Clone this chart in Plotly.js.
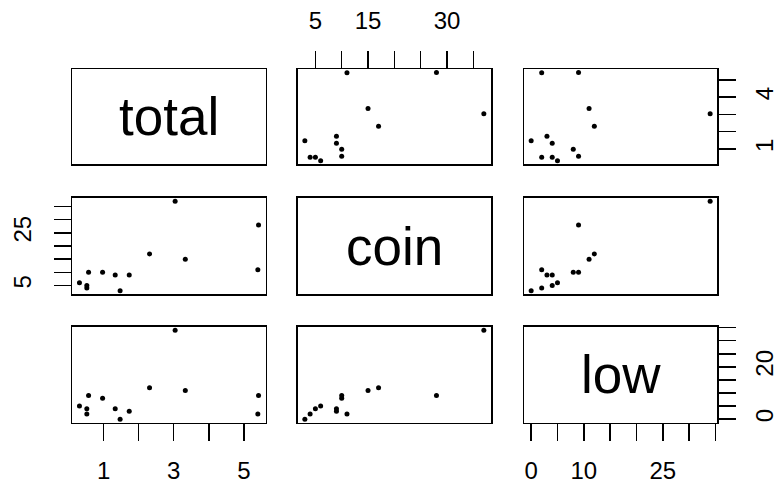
<!DOCTYPE html>
<html>
<head>
<meta charset="utf-8">
<script src="https://cdn.plot.ly/plotly-3.0.1.min.js"></script>
<style>html,body{margin:0;padding:0;background:#fff;}#chart{width:777px;height:484px;}</style>
</head>
<body>
<div id="chart"></div>
<script>
// Variable names
const varNames = ["total", "coin", "low"];
// Series values (one entry per observation)
const total = [0.31, 0.52, 0.52, 0.57, 0.97, 1.33, 1.73, 1.47, 2.31, 3.04, 3.33, 5.42, 5.40];
const coin  = [6, 5, 4, 10, 10, 9, 9, 3, 17, 37, 15, 28, 11];
const low   = [5, 4, 2, 9, 8, 4, 3, 0, 12, 34, 11, 9, 2];
// Tick positions and labels
const totalTicks = [1, 2, 3, 4, 5];
const totalBottomText = ["1", "", "3", "", "5"];
const totalRightText = ["1", "", "", "4", ""];
const coinTicks = [5, 10, 15, 20, 25, 30, 35];
const coinTopText = ["5", "", "15", "", "", "30", ""];
const coinLeftText = ["5", "", "", "", "25", "", ""];
const lowTicks = [0, 5, 10, 15, 20, 25, 30, 35];
const lowBottomText = ["0", "", "10", "", "", "25", "", ""];
const lowRightText = ["0", "", "", "", "20", "", "", ""];

const vars = [total, coin, low];
const ticks = [totalTicks, coinTicks, lowTicks];
const xText = [totalBottomText, coinTopText, lowBottomText];
const yText = [totalRightText, coinLeftText, lowRightText];

function padRange(a) {
  const mn = Math.min(...a), mx = Math.max(...a), d = mx - mn;
  return [mn - 0.04 * d, mx + 0.04 * d];
}
const ranges = vars.map(padRange);

const W = 777, H = 484;
const colPx = [[72.3, 265.7], [297.7, 491], [524, 717.3]];
const rowPx = [[69, 164.3], [197.7, 294.3], [326.7, 422.7]];
const xDom = colPx.map(p => [p[0] / W, p[1] / W]);
const yDom = rowPx.map(p => [1 - p[1] / H, 1 - p[0] / H]);

const FONT = "Liberation Sans, Arial, sans-serif";
const tickFont = {family: FONT, size: 24, color: "#000"};

const data = [];
const layout = {
  width: W, height: H,
  margin: {l: 0, r: 0, t: 0, b: 0},
  paper_bgcolor: "#fff", plot_bgcolor: "#fff",
  showlegend: false,
  annotations: [],
  font: {family: FONT, color: "#000"}
};

const n = 3;
for (let r = 0; r < n; r++) {
  for (let c = 0; c < n; c++) {
    const k = r * n + c + 1;
    const xa = "xaxis" + (k === 1 ? "" : k), ya = "yaxis" + (k === 1 ? "" : k);
    const xr = "x" + (k === 1 ? "" : k), yr = "y" + (k === 1 ? "" : k);
    const xTop = (r === 0 && c % 2 === 1);
    const xBottom = (r === n - 1 && c % 2 === 0);
    const yLeft = (c === 0 && r % 2 === 1);
    const yRight = (c === n - 1 && r % 2 === 0);
    const showX = xTop || xBottom, showY = yLeft || yRight;
    layout[xa] = {
      domain: xDom[c], anchor: yr, range: ranges[c],
      showline: true, mirror: true, linecolor: "#000", linewidth: 1.5,
      showgrid: false, zeroline: false, fixedrange: true,
      side: xTop ? "top" : "bottom",
      ticks: showX ? "outside" : "", ticklen: 17, tickwidth: 1.5, tickcolor: "#000",
      tickmode: "array", tickvals: ticks[c], ticktext: xText[c],
      showticklabels: showX, tickfont: tickFont, tickangle: 0,
      ticklabelstandoff: xTop ? 12 : 9
    };
    layout[ya] = {
      domain: yDom[r], anchor: xr, range: ranges[r],
      showline: true, mirror: true, linecolor: "#000", linewidth: 1.5,
      showgrid: false, zeroline: false, fixedrange: true,
      side: yRight ? "right" : "left",
      ticks: showY ? "outside" : "", ticklen: 17, tickwidth: 1.5, tickcolor: "#000",
      tickmode: "array", tickvals: ticks[r], ticktext: yText[r],
      showticklabels: showY, tickfont: tickFont, tickangle: -90,
      ticklabelstandoff: yLeft ? 13 : 8
    };
    if (r === c) {
      data.push({x: [], y: [], xaxis: xr, yaxis: yr, type: "scatter", mode: "markers", hoverinfo: "skip"});
      layout.annotations.push({
        xref: "paper", yref: "paper",
        x: (xDom[c][0] + xDom[c][1]) / 2, y: (yDom[r][0] + yDom[r][1]) / 2,
        xanchor: "center", yanchor: "middle", showarrow: false,
        text: varNames[r], font: {family: FONT, size: 53, color: "#000"}
      });
    } else {
      data.push({
        x: vars[c], y: vars[r], xaxis: xr, yaxis: yr,
        type: "scatter", mode: "markers", cliponaxis: false,
        marker: {color: "#000", size: 5}, hoverinfo: "skip"
      });
    }
  }
}

Plotly.newPlot("chart", data, layout, {staticPlot: true, displayModeBar: false});
</script>
</body>
</html>
